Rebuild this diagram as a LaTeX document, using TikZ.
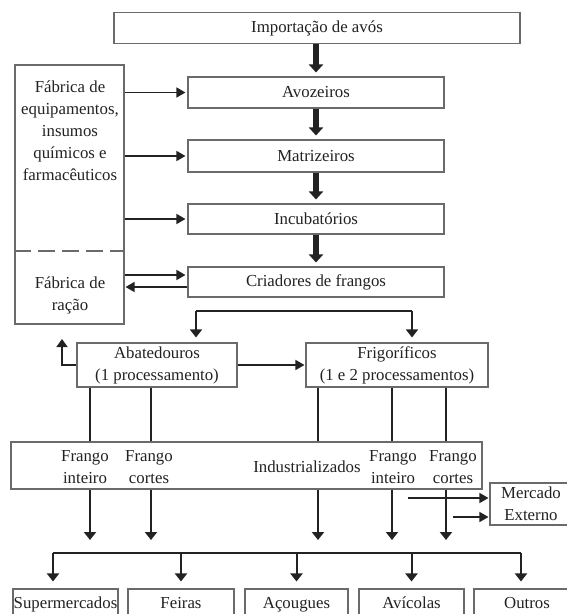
\documentclass[tikz,border=0pt]{standalone}
\usepackage{fontspec}
\setmainfont{Liberation Serif}
\usetikzlibrary{arrows.meta}
\definecolor{boxline}{HTML}{6A6A6A}
\definecolor{ink}{HTML}{222222}
\begin{document}
\begin{tikzpicture}[x=1pt,y=-1pt,
  box/.style={draw=boxline, line width=1.1pt, inner sep=0pt, align=center,
    font=\fontsize{16.8}{22}\selectfont, text=ink},
  lbl/.style={inner sep=0pt, align=center, font=\fontsize{16.8}{22}\selectfont, text=ink},
  retail/.style={box, minimum height=31, text height=12pt, text depth=4pt},
  bigarrow/.style={draw=ink, line width=5.5pt, -{Triangle[width=14pt,length=8pt]}},
  thinarrow/.style={draw=ink, line width=1.5pt, -{Triangle[width=10pt,length=9pt]}},
  midarrow/.style={draw=ink, line width=2.2pt, -{Triangle[width=12pt,length=8pt]}},
  vline/.style={draw=ink, line width=2.2pt},
  hline/.style={draw=ink, line width=1.6pt},
]
\fill[white] (0,0) rectangle (566,614);
\useasboundingbox (0,0) rectangle (566,614);

% main column
\node[box, minimum width=406, minimum height=31] (imp) at (317,28) {Importação de avós};
\node[box, minimum width=256, minimum height=31] (avo) at (316,92.5) {Avozeiros};
\node[box, minimum width=256, minimum height=32] (mat) at (316,156) {Matrizeiros};
\node[box, minimum width=256, minimum height=30] (inc) at (316,219) {Incubatórios};
\node[box, minimum width=256, minimum height=30] (cri) at (316,282) {Criadores de frangos};

% left supplier box
\node[box, minimum width=109, minimum height=259] (lb) at (69.5,194.5) {};
\node[lbl] (fabeq) at (70,131) {Fábrica de\\equipamentos,\\insumos\\químicos e\\farmacêuticos};
\node[lbl] (fabrac) at (70,295) {Fábrica de\\ração};
\coordinate (dsh) at (0,251);
\draw[boxline, line width=1.1pt, dash pattern=on 17pt off 7pt] (lb.west |- dsh) -- (lb.east |- dsh);

% thick arrows
\draw[bigarrow] (avo.north |- imp.south) -- ([yshift=4pt]avo.north);
\draw[bigarrow] (avo.south) -- ([yshift=4pt]mat.north);
\draw[bigarrow] (mat.south) -- ([yshift=4pt]inc.north);
\draw[bigarrow] (inc.south) -- ([yshift=4pt]cri.north);

% supplier arrows
\draw[thinarrow, shorten >=2pt] (lb.east |- avo.west) -- (avo.west);
\draw[thinarrow, shorten >=2pt] (lb.east |- mat.west) -- (mat.west);
\draw[thinarrow, shorten >=2pt] (lb.east |- inc.west) -- (inc.west);
\coordinate (cr1) at ([yshift=7pt]cri.west);
\coordinate (cr2) at ([yshift=-5pt]cri.west);
\draw[thinarrow, shorten >=2pt] (lb.east |- cr1) -- (cr1);
\draw[thinarrow, shorten >=1pt] (cr2) -- (lb.east |- cr2);

% processing
\node[box, minimum width=160, minimum height=44] (aba) at (157,365) {Abatedouros\\(1 processamento)};
\node[box, minimum width=182, minimum height=44] (fri) at (397,365) {Frigoríficos\\(1 e 2 processamentos)};
\coordinate (bl) at (196,311);
\coordinate (brr) at (412,311);
\draw[hline] (bl) -- (brr);
\draw[thinarrow, -{Triangle[width=12pt,length=8pt]}, shorten >=5pt] (bl) -- (bl |- aba.north);
\draw[thinarrow, -{Triangle[width=12pt,length=8pt]}, shorten >=5pt] (brr) -- (brr |- fri.north);
\draw[thinarrow, shorten >=1pt] (aba.east) -- (fri.west);
\coordinate (up) at (62,339);
\draw[thinarrow, -{Triangle[width=11pt,length=8pt]}] (aba.west) -| (up);

% products
\node[box, minimum width=471, minimum height=47] (prod) at (246.5,465.5) {};
\node[lbl] (fi1) at (85,467) {Frango\\inteiro};
\node[lbl] (fc1) at (149,467) {Frango\\cortes};
\node[lbl] (ind) at (307,467) {Industrializados};
\node[lbl] (fi2) at (393,467) {Frango\\inteiro};
\node[lbl] (fc2) at (453,467) {Frango\\cortes};
\node[box, minimum width=82, minimum height=42] (merc) at (531,504) {Mercado\\Externo};

\coordinate (tipy) at (0,540);
\foreach \n/\x/\src in {a/90/aba, b/151/aba, c/318/fri, d/392/fri, e/446/fri} {
  \coordinate (c\n) at (\x,0);
  \draw[vline] (c\n |- \src.south) -- (c\n |- prod.north);
  \draw[midarrow] (c\n |- prod.south) -- (c\n |- tipy);
}
\coordinate (m1) at (408,498);
\coordinate (m2) at (453,517);
\draw[thinarrow, shorten >=1pt] (m1) -- (m1 -| merc.west);
\draw[thinarrow, shorten >=1pt] (m2) -- (m2 -| merc.west);

% retail
\node[retail, minimum width=105] (sup) at (65.5,604.5) {Supermercados};
\node[retail, minimum width=106] (fei) at (181,604.5) {Feiras};
\node[retail, minimum width=103] (aco) at (296.5,604.5) {Açougues};
\node[retail, minimum width=105] (avi) at (411.5,604.5) {Avícolas};
\node[retail, minimum width=106] (out) at (527,604.5) {Outros};

\coordinate (dl) at (53,553);
\coordinate (dr) at (521,553);
\draw[hline, line width=2pt] (dl) -- (dr);
\draw[midarrow, line width=2pt, shorten >=7pt] (dl) -- (dl |- sup.north);
\draw[midarrow, line width=2pt, shorten >=7pt] (fei.north |- dl) -- (fei.north);
\draw[midarrow, line width=2pt, shorten >=7pt] (aco.north |- dl) -- (aco.north);
\draw[midarrow, line width=2pt, shorten >=7pt] (avi.north |- dl) -- (avi.north);
\draw[midarrow, line width=2pt, shorten >=7pt] (dr) -- (dr |- out.north);
\end{tikzpicture}
\end{document}
